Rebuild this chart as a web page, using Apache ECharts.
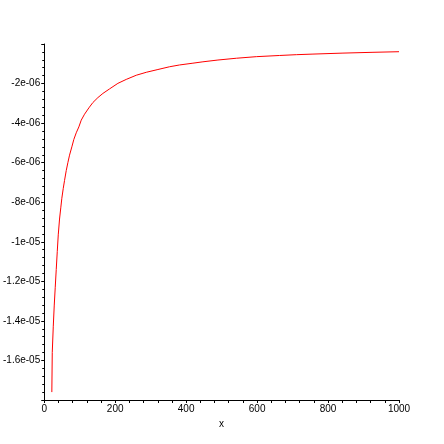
<!DOCTYPE html>
<html>
<head>
<meta charset="utf-8">
<style>html,body{margin:0;padding:0;background:#fff;}#c{width:444px;height:444px;}</style>
<script src="https://cdn.jsdelivr.net/npm/echarts@6/dist/echarts.min.js"></script>
</head>
<body>
<div id="c"></div>
<script>
// x values
var xValues = [21.4, 22.6, 25.4, 28.2, 31.0, 33.8, 36.7, 39.5, 43.1, 46.8, 49.6, 53.6, 57.2, 62.0,
  66.6, 71.3, 77.8, 83.5, 90.2, 97.6, 104.3, 113.6, 125.8, 137.1, 151.2, 165.3, 184.1, 207.6,
  231.2, 259.4, 287.6, 320.4, 353.4, 381.5, 419.1, 447.3, 489.6, 541.5, 597.9, 663.6, 710.7,
  757.5, 842.1, 926.7, 1000];
// y values in units of 1e-6
var yValuesMicro = [-17.60, -15.6, -14.3, -13.2, -12.3, -11.4, -10.5, -9.65, -8.85, -8.25, -7.8, -7.3, -6.9, -6.4,
  -6.0, -5.62, -5.20, -4.82, -4.49, -4.19, -3.85, -3.55, -3.23, -2.96, -2.71, -2.50, -2.27, -1.99,
  -1.79, -1.58, -1.43, -1.29, -1.15, -1.06, -0.97, -0.90, -0.81, -0.72, -0.64, -0.58, -0.54,
  -0.51, -0.46, -0.42, -0.39];
var yTickValues = [-16, -14, -12, -10, -8, -6, -4, -2];
var yTickLabels = ['-1.6e-05', '-1.4e-05', '-1.2e-05', '-1e-05', '-8e-06', '-6e-06', '-4e-06', '-2e-06'];
var xTickValues = [0, 200, 400, 600, 800, 1000];
var xTickLabels = ['0', '200', '400', '600', '800', '1000'];
var xAxisTitle = 'x';

var data = xValues.map(function (x, i) { return [x, yValuesMicro[i]]; });
var font = 'Liberation Sans';
var chart = echarts.init(document.getElementById('c'), null, {renderer: 'canvas'});
chart.setOption({
  animation: false,
  backgroundColor: '#ffffff',
  grid: {left: 44, right: 45, top: 44, bottom: 44, containLabel: false},
  xAxis: {
    type: 'value', min: 0, max: 1000, interval: 200,
    name: xAxisTitle, nameLocation: 'middle', nameGap: 15,
    nameTextStyle: {color: '#000', fontFamily: font, fontSize: 10},
    axisLine: {show: true, onZero: false, lineStyle: {color: '#000', width: 1}},
    axisTick: {show: true, length: 3, lineStyle: {color: '#000'}},
    minorTick: {show: true, splitNumber: 5, length: 3, lineStyle: {color: '#000'}},
    splitLine: {show: false},
    axisLabel: {
      color: '#000', fontFamily: font, fontSize: 10, margin: 4,
      formatter: function (v) {
        var i = xTickValues.indexOf(Math.round(v));
        return i >= 0 ? xTickLabels[i] : '';
      }
    }
  },
  yAxis: {
    type: 'value', min: -18, max: 0, interval: 2,
    axisLine: {show: true, onZero: false, lineStyle: {color: '#000', width: 1}},
    axisTick: {show: true, length: 3, lineStyle: {color: '#000'}},
    minorTick: {show: true, splitNumber: 5, length: 2, lineStyle: {color: '#000'}},
    splitLine: {show: false},
    axisLabel: {
      color: '#000', fontFamily: font, fontSize: 10, margin: 4,
      showMinLabel: false, showMaxLabel: false,
      formatter: function (v) {
        var i = yTickValues.indexOf(Math.round(v));
        return i >= 0 ? yTickLabels[i] : '';
      }
    }
  },
  series: [{
    type: 'line', data: data, showSymbol: false, symbol: 'none',
    lineStyle: {color: '#ff0000', width: 1}, smooth: false
  }]
});
</script>
</body>
</html>
